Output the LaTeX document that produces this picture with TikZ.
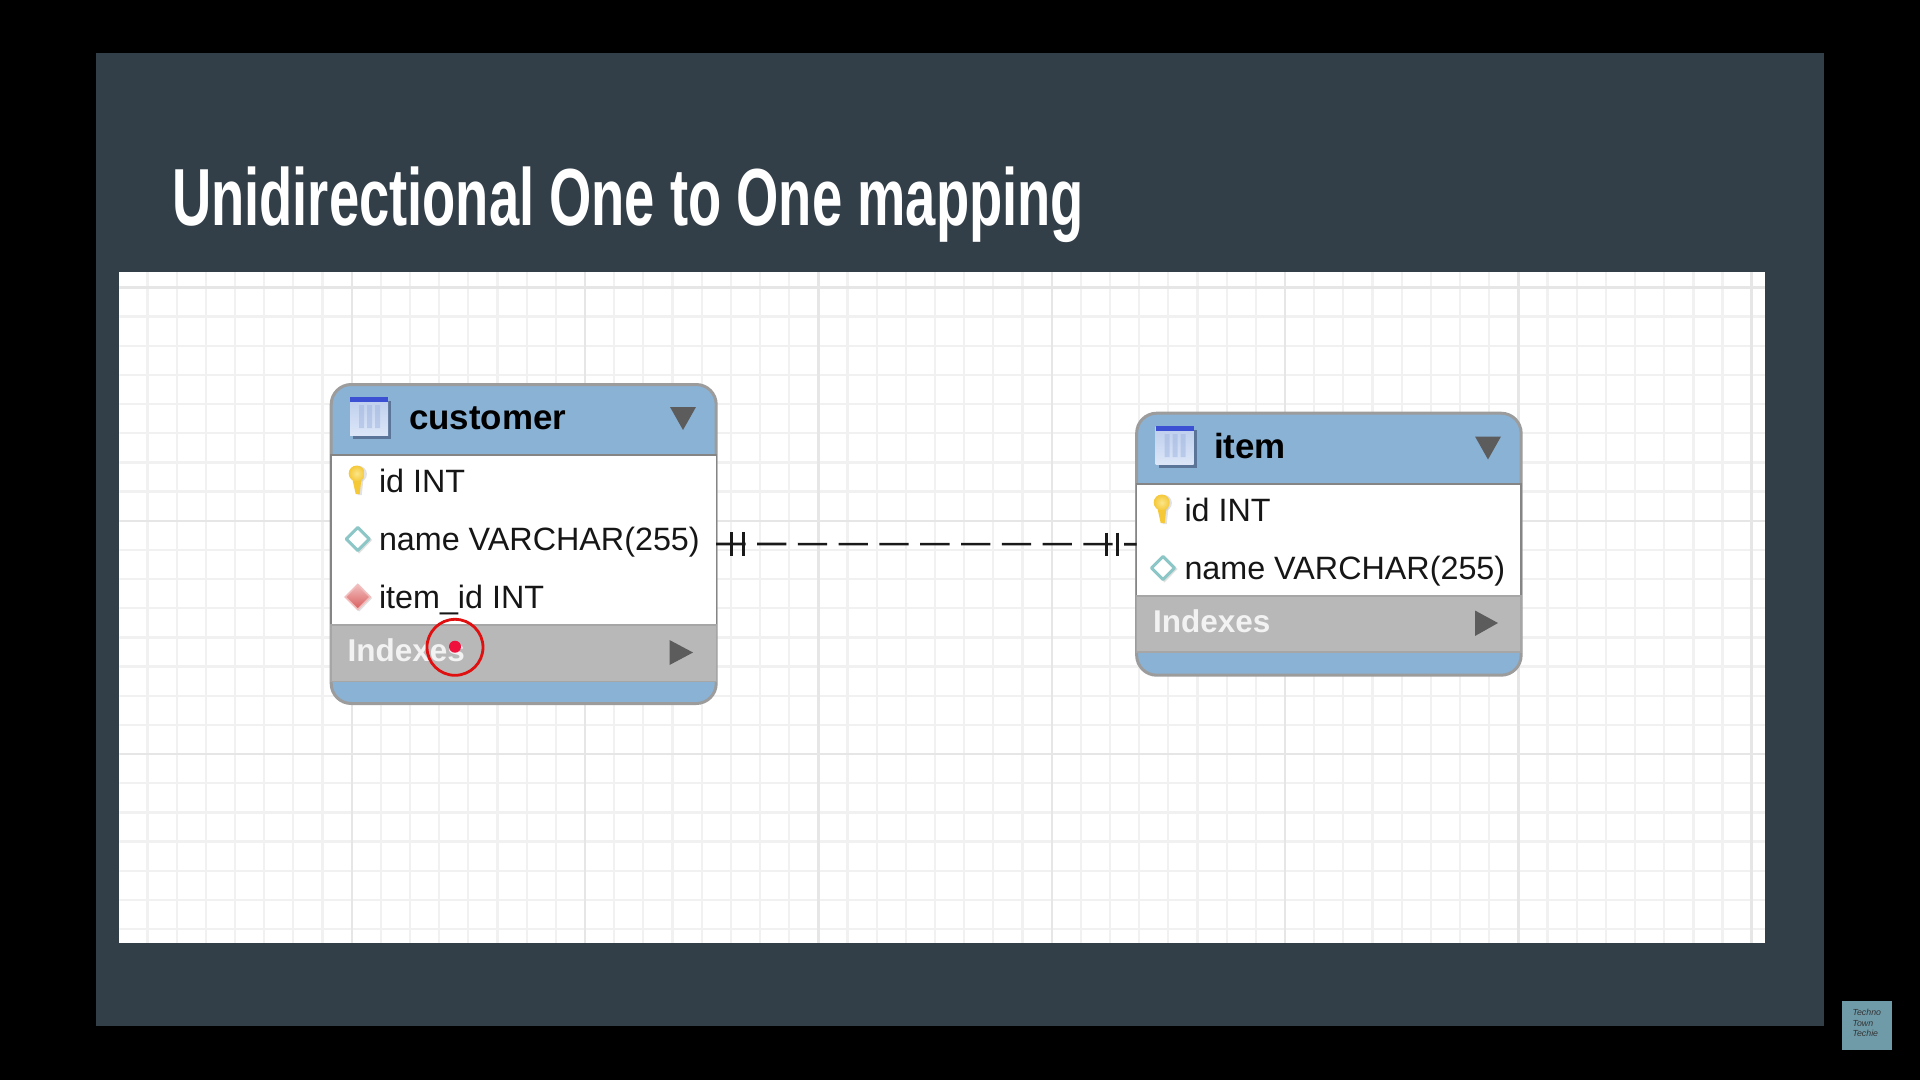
\documentclass[tikz,border=0pt]{standalone}
\usepackage{fontspec}
\setmainfont{Liberation Sans}
\definecolor{slide}{HTML}{323E48}
\definecolor{gridminor}{HTML}{F1F1F1}
\definecolor{gridmajor}{HTML}{E6E6E6}
\definecolor{head}{HTML}{8AB2D5}
\definecolor{rim}{HTML}{9C9C9C}
\definecolor{bar}{HTML}{B8B8B8}
\definecolor{tri}{HTML}{5C5C5C}
\definecolor{ink}{HTML}{161616}
\definecolor{badge}{HTML}{6F9BA9}
\definecolor{keygold}{HTML}{F5C838}
\definecolor{keylight}{HTML}{FBE68A}
\definecolor{iconbar}{HTML}{3C50D4}
\definecolor{iconpale}{HTML}{DCE6F8}
\definecolor{iconmid}{HTML}{BCCDEC}
\definecolor{iconstripe}{HTML}{9FB4DE}
\definecolor{iconshadow}{HTML}{42557A}
\definecolor{dotred}{HTML}{F0103C}
\definecolor{ringred}{HTML}{E01010}
\definecolor{fktop}{HTML}{F2BDBD}
\definecolor{fkbottom}{HTML}{D85C5C}
\tikzset{
  x=1pt,y=-1pt,
  every node/.style={inner sep=0pt,outer sep=0pt},
  tablebox/.style={rectangle,rounded corners=20pt,fill=head,draw=rim,line width=3pt},
  bodybox/.style={fill=white,draw=rim!85!black,line width=1.5pt},
  barbox/.style={fill=bar,draw=rim!90!white,line width=1.5pt},
  trimark/.style={fill=tri,draw=none},
  titletext/.style={anchor=base west,font=\fontsize{34.9}{40}\selectfont\bfseries,text=black},
  fieldtext/.style={anchor=base west,font=\fontsize{32.3}{38}\selectfont,text=ink},
  indextext/.style={anchor=base west,font=\fontsize{31.5}{36}\selectfont\bfseries,text=white!95!black},
  relation/.style={draw=black!90,line width=2.6pt},
  crowtick/.style={draw=black!90,line width=2.6pt},
  keyicon/.pic={
    \fill[black!25,opacity=.45] (2,-6) circle (8.2);
    \fill[black!25,opacity=.45] (-2,-3) -- (7,-3) -- (5,15) -- (1,15) -- cycle;
    \fill[keygold] (-5,-4) -- (5,-4) -- (3,14) -- (-1,14) -- cycle;
    \shade[inner color=keylight,outer color=keygold] (0,-6.5) circle (8);
  },
  plaindiamond/.pic={
    \fill[black!30,opacity=.4] (1.5,-12.5) -- (14.5,1) -- (1.5,14.5) -- (-11.5,1) -- cycle;
    \draw[draw=teal!45!white,fill=white,line width=3pt,line join=round] (0,-11.5) -- (11.5,0) -- (0,11.5) -- (-11.5,0) -- cycle;
  },
  fkdiamond/.pic={
    \fill[black!30,opacity=.4] (1.5,-12.5) -- (14.5,1) -- (1.5,14.5) -- (-11.5,1) -- cycle;
    \shade[top color=fktop,bottom color=fkbottom,draw=fktop,line width=1.5pt] (0,-12.5) -- (12.5,0) -- (0,12.5) -- (-12.5,0) -- cycle;
  },
  tableicon/.pic={
    \fill[iconshadow,opacity=.65] (3,4) rectangle (41,42);
    \shade[top color=iconmid,bottom color=iconpale] (0,0) rectangle (38,38);
    \fill[iconstripe,opacity=.5] (9,8) rectangle (14,31) (17,8) rectangle (22,31) (25,8) rectangle (30,31);
    \fill[iconbar] (0,0) rectangle (38,5);
  }
}
\begin{document}
\begin{tikzpicture}
\useasboundingbox (0,0) rectangle (1920,1080);
\fill[black] (0,0) rectangle (1920,1080);
\fill[slide] (96,53) rectangle (1824,1026);
\fill[white] (119.4,272) rectangle (1765,942.5);
\begin{scope}
  \clip (119.4,272) rectangle (1765,942.5);
  \foreach \k in {-8,...,48} {
    \draw[gridminor,line width=2.2pt] ({351.7+29.167*\k},272) -- ({351.7+29.167*\k},943);
  }
  \foreach \k in {0,...,23} {
    \draw[gridminor,line width=2.2pt] (119.4,{287.4+29.167*\k}) -- (1765,{287.4+29.167*\k});
  }
  \foreach \k in {0,...,6} {
    \draw[gridmajor,line width=2.4pt] ({351.7+233.33*\k},272) -- ({351.7+233.33*\k},943);
  }
  \foreach \k in {0,...,2} {
    \draw[gridmajor,line width=2.4pt] (119.4,{287.4+233.33*\k}) -- (1765,{287.4+233.33*\k});
  }
\end{scope}
\node[slidetitle/.style={anchor=base west,text=white},slidetitle] (title) at (172,225)
  {\scalebox{0.671}[1]{\fontsize{81}{90}\selectfont\bfseries Unidirectional One to One mapping}};

% customer table
\node[tablebox,minimum width=385pt,minimum height=319pt] (customer) at (523.7,544) {};
\draw[bodybox] (331,455) rectangle (716.4,625);
\draw[barbox] (331,625) rectangle (716.4,681.5);
\pic at (350,397) {tableicon};
\node[titletext] (ctitle) at (409,429) {customer};
\fill[trimark] (670,407) -- (696,407) -- (683,430) -- cycle;
\pic at (356.7,480) {keyicon};
\node[fieldtext] (cid) at (379,492.5) {id INT};
\pic at (357.7,539) {plaindiamond};
\node[fieldtext] (cname) at (379,550.5) {name VARCHAR(255)};
\pic at (357.7,597) {fkdiamond};
\node[fieldtext] (citem) at (379,608.5) {item\_id INT};
\node[indextext] (cindex) at (347.5,661) {Indexes};
\fill[trimark] (669.5,640) -- (693,652.5) -- (669.5,665) -- cycle;

% item table
\node[tablebox,minimum width=384.5pt,minimum height=262pt] (item) at (1328.9,544.2) {};
\draw[bodybox] (1136.7,484) rectangle (1521,596);
\draw[barbox] (1136.7,596) rectangle (1521,652);
\pic at (1155.5,426) {tableicon};
\node[titletext] (ititle) at (1214,458) {item};
\fill[trimark] (1475,436.5) -- (1501,436.5) -- (1488,459.5) -- cycle;
\pic at (1161.7,509) {keyicon};
\node[fieldtext] (iid) at (1184.5,521.5) {id INT};
\pic at (1163,568) {plaindiamond};
\node[fieldtext] (iname) at (1184.5,579.5) {name VARCHAR(255)};
\node[indextext] (iindex) at (1153,632) {Indexes};
\fill[trimark] (1475,610.5) -- (1498,623) -- (1475,636) -- cycle;

% relation
\draw[relation,dash pattern=on 29.3pt off 11.5pt] (customer.east) -- (item.west);
\draw[crowtick] ([xshift=15pt,yshift=11.7pt]customer.east) -- ([xshift=15pt,yshift=-11.7pt]customer.east);
\draw[crowtick] ([xshift=27pt,yshift=11.7pt]customer.east) -- ([xshift=27pt,yshift=-11.7pt]customer.east);
\draw[crowtick] ([xshift=-30pt,yshift=11.7pt]item.west) -- ([xshift=-30pt,yshift=-11.7pt]item.west);
\draw[crowtick] ([xshift=-19pt,yshift=11.7pt]item.west) -- ([xshift=-19pt,yshift=-11.7pt]item.west);

% pointer highlight
\node[circle,draw=ringred,line width=2.8pt,minimum size=56pt] (ring) at (455,647.3) {};
\node[circle,fill=dotred,minimum size=12pt] (dot) at (455,646.7) {};

% badge
\node[fill=badge,minimum width=50pt,minimum height=49pt] (badge) at (1867,1025.5) {};
\node[anchor=base west,align=left,text=black!80,font=\fontsize{8.8}{10.6}\selectfont\itshape] (badgetext) at (1852.5,1036.6) {Techno\\Town\\Techie};
\end{tikzpicture}
\end{document}
